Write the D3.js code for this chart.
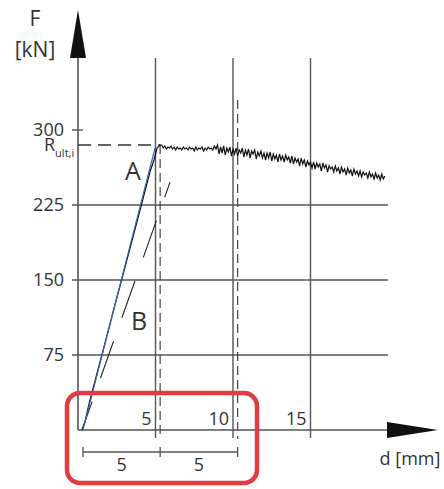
<!DOCTYPE html>
<html>
<head>
<meta charset="utf-8">
<script src="https://cdn.jsdelivr.net/npm/d3@7"></script>
<style>
  body { margin: 0; background: #fff; }
  text { font-family: "Open Sans", sans-serif; fill: #333; }
</style>
</head>
<body>
<script>
var w = 444;
var h = 489;

// axis ticks
var yTicks = [75, 150, 225, 300];
var xTicks = [5, 10, 15];

// load-displacement curve (rising part), d in mm, F in kN
var riseD = [0.26, 0.45, 0.74, 1.2, 1.76, 2.38, 2.95, 3.46, 3.92, 4.34, 4.64, 4.9, 5.1, 5.29];
var riseF = [0, 8, 28, 55, 88, 125, 158, 188, 215, 240, 258, 270, 282, 285];

// noisy plateau after the peak (one reading every 0.1 mm)
var plateauStart = 5.4;
var plateauStep = 0.1;
var plateauF = [285, 282, 284, 281, 283, 282, 284, 281, 283, 280, 283, 281, 282, 280, 283, 281, 282,
                280, 283, 281, 282, 279, 283, 280, 282, 281, 283, 279, 282, 280, 283, 281, 282, 280, 284, 281, 285,
                276, 283, 277, 284, 275, 282, 278, 283, 274, 281, 276, 282, 274, 280, 277,
                282, 273, 280, 275, 281, 272, 279, 276, 280, 271, 278, 274, 279, 272, 277,
                270, 277, 272, 278, 269, 276, 271, 275, 268, 276, 270, 274, 268, 275, 270,
                273, 267, 274, 266, 272, 268, 271, 264, 272, 266, 270, 263, 269, 265, 268,
                262, 268, 261, 267, 263, 266, 259, 267, 262, 265, 258, 264, 261, 263, 258,
                264, 259, 262, 256, 263, 258, 261, 255, 262, 257, 260, 254, 261, 256, 259,
                254, 259, 253, 258, 255, 257, 252, 258, 253, 256, 251, 257, 252, 255, 250, 256, 251, 254];

// line A (blue secant) and line B (dashed, offset), top point first
var lineA = [[0.32, 0], [4.97, 282]];
var lineB = [[5.94, 248], [0.26, 0]];

var rUlt = 285;
var dashD = [5.3, 10.3];
var dashTop = [285, 330];
var dimD = [0.32, 5.3, 10.3];
var dimLabels = ["5", "5"];

var svg = d3.select("body").append("svg")
            .attr("width", w)
            .attr("height", h);

var xScale = d3.scaleLinear().domain([0, 20]).range([78, 388]);
var yScale = d3.scaleLinear().domain([0, 300]).range([430, 130]);

var grey = "#555";

// horizontal grid lines
svg.selectAll("line.hgrid")
   .data(yTicks)
   .enter()
   .append("line")
   .attr("class", "hgrid")
   .attr("x1", xScale(0) - 6)
   .attr("x2", function(d) { return d == 300 ? xScale(0) + 5 : xScale(20); })
   .attr("y1", function(d) { return yScale(d); })
   .attr("y2", function(d) { return yScale(d); })
   .attr("stroke", grey)
   .attr("stroke-width", 1.4);

svg.selectAll("text.ylab")
   .data(yTicks)
   .enter()
   .append("text")
   .attr("class", "ylab")
   .text(function(d) { return d; })
   .attr("x", 64)
   .attr("y", function(d) { return yScale(d) + 6; })
   .attr("text-anchor", "end")
   .attr("font-size", "18px");

// vertical grid lines
svg.selectAll("line.vgrid")
   .data(xTicks)
   .enter()
   .append("line")
   .attr("class", "vgrid")
   .attr("x1", function(d) { return xScale(d); })
   .attr("x2", function(d) { return xScale(d); })
   .attr("y1", yScale(372))
   .attr("y2", yScale(-8))
   .attr("stroke", grey)
   .attr("stroke-width", 1.4);

svg.selectAll("text.xlab")
   .data(xTicks)
   .enter()
   .append("text")
   .attr("class", "xlab")
   .text(function(d) { return d; })
   .attr("x", function(d) { return xScale(d) - 4; })
   .attr("y", yScale(0) - 5)
   .attr("text-anchor", "end")
   .attr("font-size", "18px");

// axes with arrows
svg.append("line")
   .attr("x1", xScale(0)).attr("x2", xScale(0))
   .attr("y1", yScale(0)).attr("y2", 56)
   .attr("stroke", grey).attr("stroke-width", 1.6);
svg.append("path")
   .attr("d", "M" + (xScale(0) - 8) + ",58 L" + xScale(0) + ",10 L" + (xScale(0) + 8) + ",58 Z")
   .attr("fill", "#111");
svg.append("line")
   .attr("x1", xScale(0)).attr("x2", 388)
   .attr("y1", yScale(0)).attr("y2", yScale(0))
   .attr("stroke", grey).attr("stroke-width", 1.6);
svg.append("path")
   .attr("d", "M387," + (yScale(0) - 8) + " L438," + yScale(0) + " L387," + (yScale(0) + 8) + " Z")
   .attr("fill", "#111");

// R_ult,i dashed line
svg.append("line")
   .attr("x1", xScale(0)).attr("x2", xScale(5.3))
   .attr("y1", yScale(rUlt)).attr("y2", yScale(rUlt))
   .attr("stroke", "#333").attr("stroke-width", 1.4)
   .attr("stroke-dasharray", "13,7");

// vertical dashed lines
svg.selectAll("line.vdash")
   .data(dashD)
   .enter()
   .append("line")
   .attr("class", "vdash")
   .attr("x1", function(d) { return xScale(d); })
   .attr("x2", function(d) { return xScale(d); })
   .attr("y1", function(d, i) { return yScale(dashTop[i]); })
   .attr("y2", yScale(-9))
   .attr("stroke", "#444")
   .attr("stroke-width", 1.2)
   .attr("stroke-dasharray", "9,5");

// line B dashed, drawn from the top down
svg.append("line")
   .attr("x1", xScale(lineB[0][0])).attr("y1", yScale(lineB[0][1]))
   .attr("x2", xScale(lineB[1][0])).attr("y2", yScale(lineB[1][1]))
   .attr("stroke", "#222").attr("stroke-width", 1.1)
   .attr("stroke-dasharray", "39,25")
   .attr("stroke-dashoffset", 23);

// measured curve
var curve = riseD.map(function(d, i) { return [d, riseF[i]]; });
plateauF.forEach(function(f, i) {
    curve.push([plateauStart + i * plateauStep, f]);
});
var line = d3.line()
             .x(function(d) { return xScale(d[0]); })
             .y(function(d) { return yScale(d[1]); });
svg.append("path")
   .attr("d", line(curve))
   .attr("fill", "none")
   .attr("stroke", "#111")
   .attr("stroke-width", 1.2);

// line A blue
svg.append("path")
   .attr("d", line(lineA))
   .attr("fill", "none")
   .attr("stroke", "#3b5fb8")
   .attr("stroke-width", 1.1);

// dimension line
var dimY = 452;
svg.append("line")
   .attr("x1", xScale(dimD[0])).attr("x2", xScale(dimD[2]))
   .attr("y1", dimY).attr("y2", dimY)
   .attr("stroke", grey).attr("stroke-width", 1.3);
svg.selectAll("line.dimtick")
   .data(dimD)
   .enter()
   .append("line")
   .attr("class", "dimtick")
   .attr("x1", function(d) { return xScale(d); })
   .attr("x2", function(d) { return xScale(d); })
   .attr("y1", dimY - 5).attr("y2", dimY + 5)
   .attr("stroke", grey).attr("stroke-width", 1.3);
svg.selectAll("text.dimlab")
   .data(dimLabels)
   .enter()
   .append("text")
   .attr("class", "dimlab")
   .text(function(d) { return d; })
   .attr("x", function(d, i) { return (xScale(dimD[i]) + xScale(dimD[i + 1])) / 2; })
   .attr("y", 471)
   .attr("text-anchor", "middle")
   .attr("font-size", "18px");

// red highlight box
svg.append("rect")
   .attr("x", 67).attr("y", 393)
   .attr("width", 190).attr("height", 90)
   .attr("rx", 13)
   .attr("fill", "none")
   .attr("stroke", "#e23b42")
   .attr("stroke-width", 4.5);

// labels
svg.append("text").text("F")
   .attr("x", 35).attr("y", 26)
   .attr("text-anchor", "middle").attr("font-size", "21px");
svg.append("text").text("[kN]")
   .attr("x", 35).attr("y", 57)
   .attr("text-anchor", "middle").attr("font-size", "21px");
svg.append("text").text("d [mm]")
   .attr("x", 410).attr("y", 465)
   .attr("text-anchor", "middle").attr("font-size", "18px");

var r = svg.append("text").attr("x", 44).attr("y", 151).attr("font-size", "18px");
r.append("tspan").text("R");
r.append("tspan").text("ult,i").attr("font-size", "11px").attr("dy", 6);

svg.append("text").text("A")
   .attr("x", 133).attr("y", 180)
   .attr("text-anchor", "middle").attr("font-size", "25px");
svg.append("text").text("B")
   .attr("x", 139).attr("y", 330)
   .attr("text-anchor", "middle").attr("font-size", "25px");
</script>
</body>
</html>
